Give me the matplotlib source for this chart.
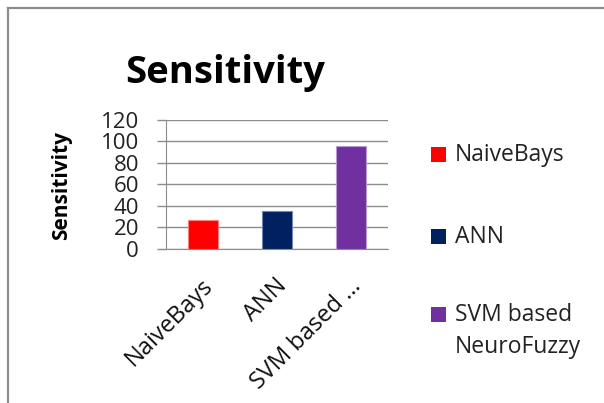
import matplotlib
matplotlib.use("Agg")
import matplotlib.pyplot as plt
from matplotlib.patches import Rectangle
from matplotlib.lines import Line2D
import matplotlib.transforms as mtransforms

categories = ["NaiveBays", "ANN", "SVM based NeuroFuzzy"]
tick_labels = ["NaiveBays", "ANN", "SVM based \u2026"]
legend_labels = ["NaiveBays", "ANN", "SVM based\nNeuroFuzzy"]
values = [27, 35, 96]
colors = ["#FF0000", "#002060", "#7030A0"]
edge_colors = ["#FF7F7F", "#6F86B8", "#B69AD0"]
yticks = [0, 20, 40, 60, 80, 100, 120]

FONT = "Open Sans"
plt.rcParams["font.family"] = [FONT, "DejaVu Sans"]

W, H = 604, 403
fig = plt.figure(figsize=(W / 100, H / 100), dpi=100)
fig.patch.set_facecolor("white")

# outer chart frame (left and top edges visible)
fig.add_artist(Line2D([8 / W, 8 / W], [0, 1 - 8 / H], color="#8C8C8C", lw=1.6,
                      transform=fig.transFigure))
fig.add_artist(Line2D([8 / W, 1], [1 - 8 / H, 1 - 8 / H], color="#8C8C8C", lw=1.6,
                      transform=fig.transFigure))

left, right, top, bottom = 166, 388, 120, 249
ax = fig.add_axes([left / W, 1 - bottom / H, (right - left) / W, (bottom - top) / H])
x = list(range(len(categories)))
ax.bar(x, values, width=0.41, color=colors, edgecolor=edge_colors, linewidth=0.8, zorder=3)
ax.set_xlim(-0.5, len(categories) - 0.5)
ax.set_ylim(0, 120)
ax.set_yticks(yticks)
ax.set_yticklabels([str(v) for v in yticks], fontsize=16, color="#222222")
ax.yaxis.grid(True, color="#8C8C8C", lw=1.0, zorder=0)
ax.tick_params(axis="y", length=6.5, width=1.0, color="#8C8C8C", pad=13)
ax.set_xticks(x)
ax.set_xticklabels(tick_labels, rotation=45, ha="right", va="top",
                   rotation_mode="anchor", fontsize=17, color="#111111")
ax.tick_params(axis="x", length=0, pad=18)
offset = mtransforms.ScaledTranslation(-2 / 100, 0, fig.dpi_scale_trans)
for lbl in ax.get_xticklabels():
    lbl.set_transform(lbl.get_transform() + offset)
for s in ["top", "right"]:
    ax.spines[s].set_visible(False)
ax.spines["left"].set_color("#8C8C8C")
ax.spines["bottom"].set_color("#8C8C8C")
ax.set_axisbelow(True)
fig.text(62 / W, 1 - 186 / H, "Sensitivity", fontsize=15, fontweight="bold",
         rotation=90, ha="center", va="center")

# Title
fig.text(225 / W, 1 - 83 / H, "Sensitivity", fontsize=27.5, fontweight="bold",
         ha="center", va="baseline")

# Legend drawn manually
leg_y = [155, 237, 315]
for lab, col, yc in zip(legend_labels, colors, leg_y):
    fig.add_artist(Rectangle((431 / W, 1 - (yc + 7) / H), 15 / W, 15 / H,
                             transform=fig.transFigure, facecolor=col,
                             edgecolor="none"))
    for i, line in enumerate(lab.split("\n")):
        fig.text(455 / W, 1 - (yc + 32 * i) / H, line, fontsize=16.5, ha="left",
                 va="center", color="#222222")

fig.savefig("out.png", dpi=100)
